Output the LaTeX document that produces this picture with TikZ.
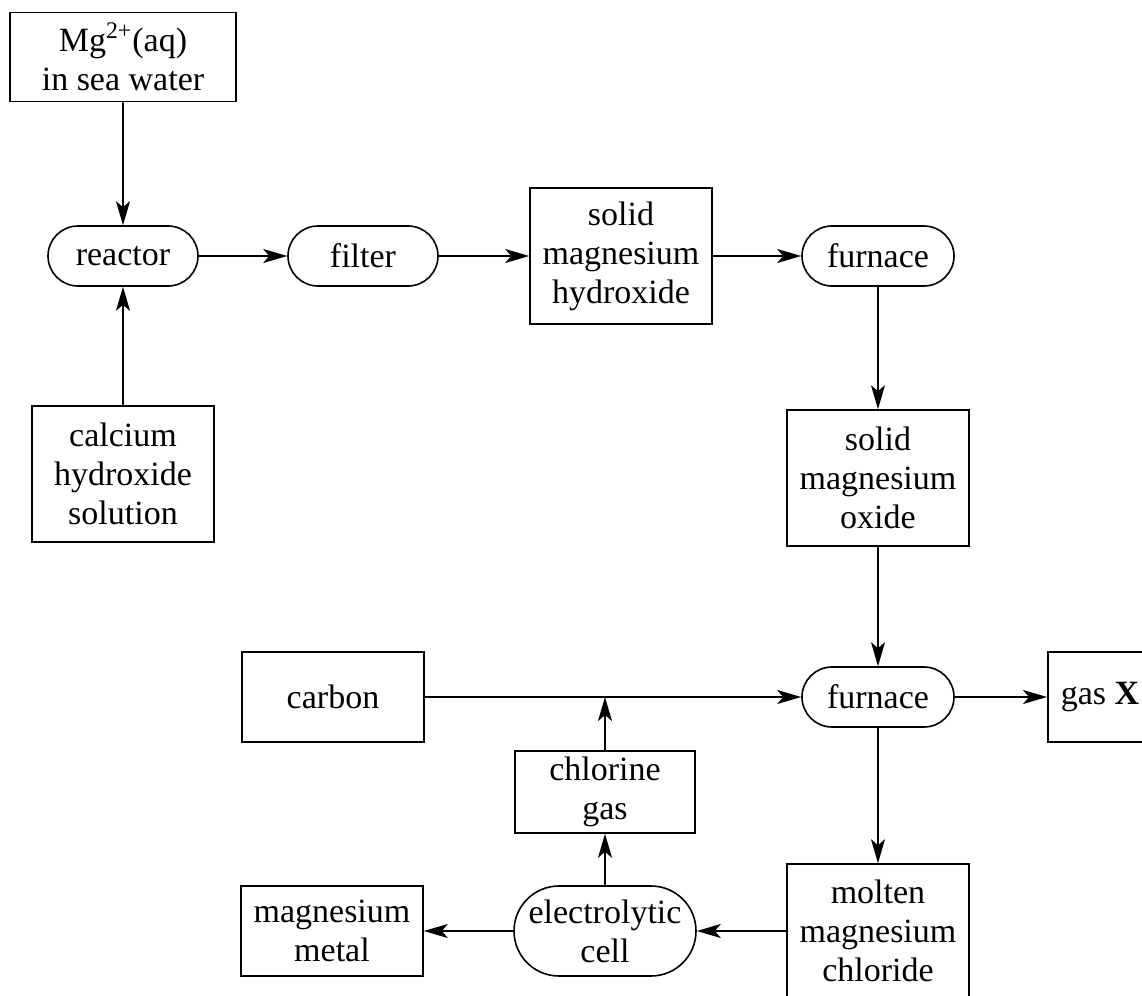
\documentclass[tikz,border=0pt]{standalone}
\usepackage{fontspec}
\setmainfont{Liberation Serif}
\usetikzlibrary{positioning,arrows.meta,shapes.misc}

\begin{document}
\begin{tikzpicture}[x=0.5pt, y=-0.5pt,
        box/.style={draw, line width=0.8pt, minimum width=91pt, minimum height=45pt,
                    inner sep=0pt, align=center,
                    font=\fontsize{17}{19.5}\selectfont},
        tall/.style={box, minimum height=68pt},
        unit/.style={box, rounded rectangle, minimum width=75pt, minimum height=30pt},
        ar/.style={-{Stealth[length=12pt, width=7pt, inset=3pt]}, line width=0.8pt},
      ]
      \useasboundingbox (0,0) rectangle (1142,996);
      % top row
      \node[box, minimum width=113pt, minimum height=44.5pt] (mg) at (123,57) {Mg\textsuperscript{2+}(aq)\\in sea water};
      \node[unit] (reactor) at (123,256) {reactor};
      \node[unit] (filter) at (363,256) {filter};
      \node[tall] (hydrox) at (621,256) {solid\\magnesium\\hydroxide};
      \node[unit, minimum width=76pt] (furn1) at (878,256) {furnace};
      \node[tall] (calc) at (123,474) {calcium\\hydroxide\\solution};
      \node[tall] (oxide) at (878,478) {solid\\magnesium\\oxide};
      % bottom part
      \node[unit, minimum width=76pt] (furn2) at (878,697) {furnace};
      \node[box] (carbon) at (333,697) {carbon};
      \node[box, minimum width=0pt, inner xsep=6.5pt, anchor=west] (gasx) at (1047,697) {gas \textbf{X}};
      \node[box, minimum width=90pt, minimum height=41pt] (chlor) at (605,792) {chlorine\\gas};
      \node[box, rounded rectangle] (elec) at (605,931) {electrolytic\\cell};
      \node[box] (metal) at (332,931) {magnesium\\metal};
      \node[tall, minimum height=67pt] (molten) at (878,931) {molten\\magnesium\\chloride};
      \coordinate (join) at (chlor |- carbon.east);

      \draw[ar] (mg) -- (reactor);
      \draw[ar] (calc) -- (reactor);
      \draw[ar] (reactor) -- (filter);
      \draw[ar] (filter) -- (hydrox);
      \draw[ar] (hydrox) -- (furn1);
      \draw[ar] (furn1) -- (oxide);
      \draw[ar] (oxide) -- (furn2);
      \draw[ar] (carbon) -- (furn2);
      \draw[ar] (furn2) -- (gasx);
      \draw[ar] (furn2) -- (molten);
      \draw[ar] (molten) -- (elec);
      \draw[ar] (elec) -- (metal);
      \draw[ar] (elec) -- (chlor);
      \draw[ar] (chlor) -- (join);
    \end{tikzpicture}
\end{document}
